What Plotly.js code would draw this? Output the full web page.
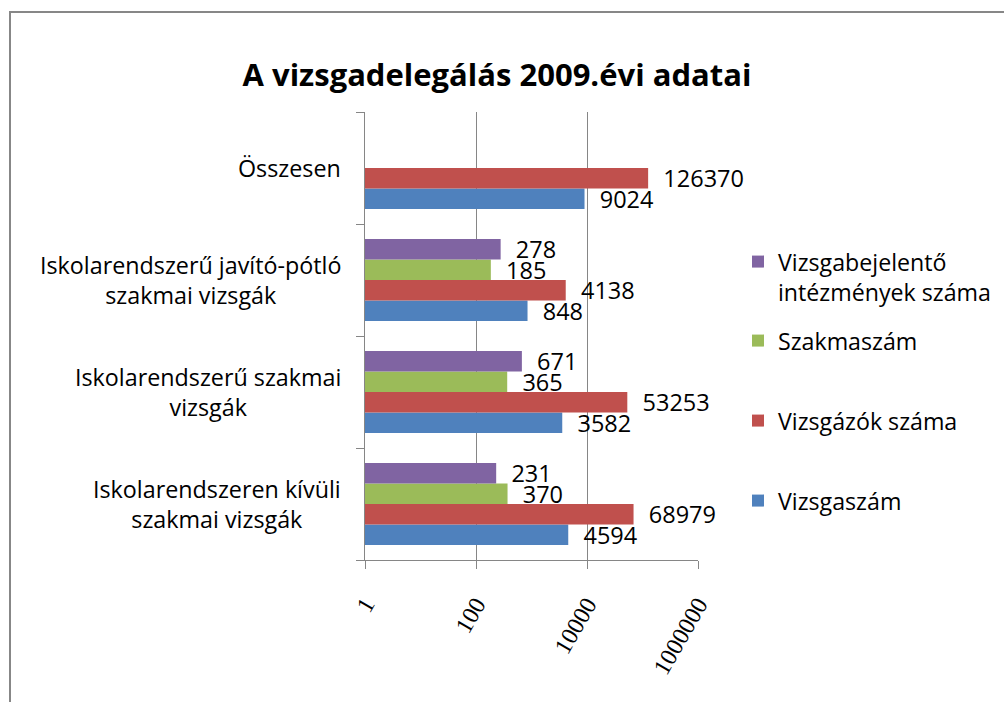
<!DOCTYPE html>
<html>
<head>
<meta charset="utf-8">
<script src="https://cdn.plot.ly/plotly-3.0.1.min.js"></script>
<style>
  html, body { margin: 0; padding: 0; background: #fff; overflow: hidden; }
  #frame { position: absolute; left: 9px; top: 11px; width: 1100px; height: 800px; border: 2px solid #878787; box-sizing: border-box; }
  #chart { position: absolute; left: 0; top: 0; width: 1004px; height: 702px; }
</style>
</head>
<body>
<div id="frame"></div>
<div id="chart"></div>
<script>
// Data
const categories = [
  "Iskolarendszeren kívüli<br>szakmai vizsgák",
  "Iskolarendszerű szakmai<br>vizsgák",
  "Iskolarendszerű javító-pótló<br>szakmai vizsgák",
  "Összesen"
];
const vizsgaszam = [4594, 3582, 848, 9024];
const vizsgazokSzama = [68979, 53253, 4138, 126370];
const szakmaszam = [370, 365, 185, null];
const intezmenyekSzama = [231, 671, 278, null];
const seriesNames = ["Vizsgaszám", "Vizsgázók száma", "Szakmaszám", "Vizsgabejelentő<br>intézmények száma"];
const seriesColors = ["#4F81BD", "#C0504D", "#9BBB59", "#8064A2"];
const tickVals = [1, 100, 10000, 1000000];
const tickText = ["1", "100", "10000", "1000000"];
const chartTitle = "A vizsgadelegálás 2009.évi adatai";

const FONT = "Open Sans, sans-serif";
const allSeries = [vizsgaszam, vizsgazokSzama, szakmaszam, intezmenyekSzama];
const legendIds = ["legend4", "legend3", "legend2", "legend"];

const traces = allSeries.map((vals, i) => ({
  type: "bar",
  orientation: "h",
  name: seriesNames[i],
  y: categories,
  x: vals,
  marker: { color: seriesColors[i] },
  text: vals.map(v => v === null ? "" : String(v)),
  texttemplate: "\u00a0\u00a0%{text}",
  textposition: "outside",
  constraintext: "none",
  cliponaxis: false,
  textfont: { family: FONT, size: 23.5, color: "#000" },
  legend: legendIds[i],
  hoverinfo: "x+name"
}));

const px2x = px => (px - 365) / 333;
const py2y = py => (560 - py) / 448;
const legendBase = {
  xanchor: "left", yanchor: "middle", valign: "top",
  bgcolor: "rgba(0,0,0,0)", borderwidth: 0,
  font: { family: FONT, size: 23.2, color: "#000" }
};

const annotations = categories.map(c => ({
  x: 0, xref: "paper", xshift: -22, xanchor: "right",
  y: c, yref: "y", yanchor: "middle",
  text: c, showarrow: false, align: "center",
  font: { family: FONT, size: 23.3, color: "#000" }
}));

const layout = {
  width: 1004, height: 702,
  margin: { l: 365, r: 306, t: 112, b: 142, autoexpand: false },
  paper_bgcolor: "rgba(0,0,0,0)",
  plot_bgcolor: "rgba(0,0,0,0)",
  title: {
    text: "<b>" + chartTitle + "</b>",
    x: 0.495, xref: "container", xanchor: "center",
    y: 1 - 75 / 702, yref: "container", yanchor: "middle",
    font: { family: FONT, size: 31, color: "#000" }
  },
  barmode: "group",
  bargap: 0.27,
  bargroupgap: 0,
  xaxis: {
    type: "log",
    range: [0, 6],
    tickvals: tickVals,
    ticktext: tickText,
    tickangle: -60,
    ticks: "outside", ticklen: 8, tickcolor: "#868686",
    ticklabelstandoff: 12,
    showline: true, linecolor: "#868686", linewidth: 1,
    showgrid: true, gridcolor: "#868686", gridwidth: 1,
    zeroline: false,
    tickfont: { family: "Liberation Serif, serif", size: 24, color: "#000" }
  },
  yaxis: {
    type: "category",
    showticklabels: false,
    ticks: "outside", ticklen: 8, tickcolor: "#868686",
    tickson: "boundaries",
    showline: true, linecolor: "#868686", linewidth: 1,
    showgrid: false, zeroline: false
  },
  legend:  Object.assign({}, legendBase, { x: px2x(738), y: py2y(277) }),
  legend2: Object.assign({}, legendBase, { x: px2x(738), y: py2y(341) }),
  legend3: Object.assign({}, legendBase, { x: px2x(738), y: py2y(421) }),
  legend4: Object.assign({}, legendBase, { x: px2x(738), y: py2y(501) }),
  annotations: annotations,
  showlegend: true
};

Plotly.newPlot("chart", traces, layout, { displayModeBar: false, staticPlot: false });
</script>
</body>
</html>
